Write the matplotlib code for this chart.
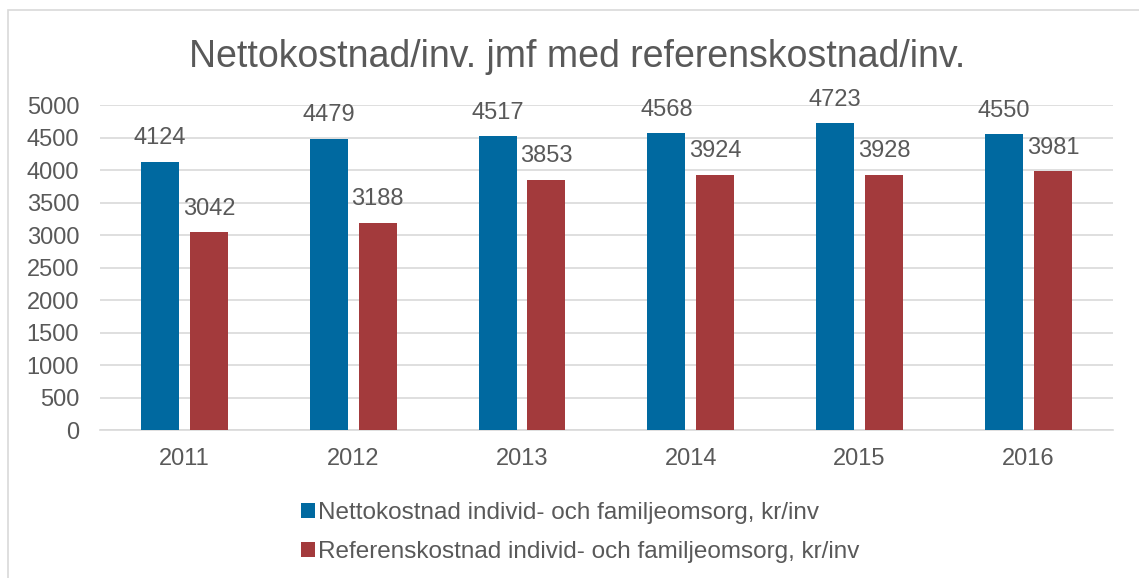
import numpy as np
import matplotlib.pyplot as plt
from matplotlib.patches import Rectangle

plt.rcParams["font.family"] = ["Liberation Sans", "DejaVu Sans"]

# data
years = ["2011", "2012", "2013", "2014", "2015", "2016"]
netto = [4124, 4479, 4517, 4568, 4723, 4550]
referens = [3042, 3188, 3853, 3924, 3928, 3981]
yticks = list(range(0, 5001, 500))

blue = "#0069A0"
red = "#A33A3C"
txt = "#595959"
grid = "#D9D9D9"

fig = plt.figure(figsize=(11.39, 5.78), dpi=100)
ax = fig.add_axes([0.0878, 0.256, 0.8892, 0.5623])

x = np.arange(len(years))
w = 0.225
off = 0.145
b1 = ax.bar(x - off, netto, w, color=blue, zorder=3,
            label="Nettokostnad individ- och familjeomsorg, kr/inv")
b2 = ax.bar(x + off, referens, w, color=red, zorder=3,
            label="Referenskostnad individ- och familjeomsorg, kr/inv")

for bars in (b1, b2):
    for r in bars:
        ax.annotate(f"{int(r.get_height())}",
                    (r.get_x() + r.get_width() / 2, r.get_height()),
                    xytext=(0, 9), textcoords="offset points",
                    ha="center", va="bottom", fontsize=17, color=txt)

ax.set_xlim(-0.5, len(years) - 0.5)
ax.set_ylim(0, 5000)
ax.set_yticks(yticks)
ax.set_xticks(x)
ax.set_xticklabels(years)
ax.tick_params(axis="both", length=0, labelsize=17, labelcolor=txt)
ax.tick_params(axis="x", pad=13)
ax.tick_params(axis="y", pad=15)
ax.yaxis.grid(True, color=grid, linewidth=1.2, zorder=0)
for s in ("left", "right", "top"):
    ax.spines[s].set_visible(False)
ax.spines["bottom"].set_color(grid)
ax.spines["bottom"].set_linewidth(1.2)

fig.text(0.507, 0.902, "Nettokostnad/inv. jmf med referenskostnad/inv.",
         ha="center", va="center", fontsize=27, color=txt)

fig.legend(loc="upper left", bbox_to_anchor=(0.256, 0.148), frameon=False,
           fontsize=17.5, labelcolor=txt, handlelength=0.55, handleheight=0.55,
           handletextpad=0.12, labelspacing=0.7, borderaxespad=0)

fig.patches.append(Rectangle((8 / 1139, -0.05), 1.1, 1 - 10 / 578 + 0.05,
                             transform=fig.transFigure, fill=False,
                             edgecolor=grid, linewidth=1.2))

fig.savefig("out.png", dpi=100)
